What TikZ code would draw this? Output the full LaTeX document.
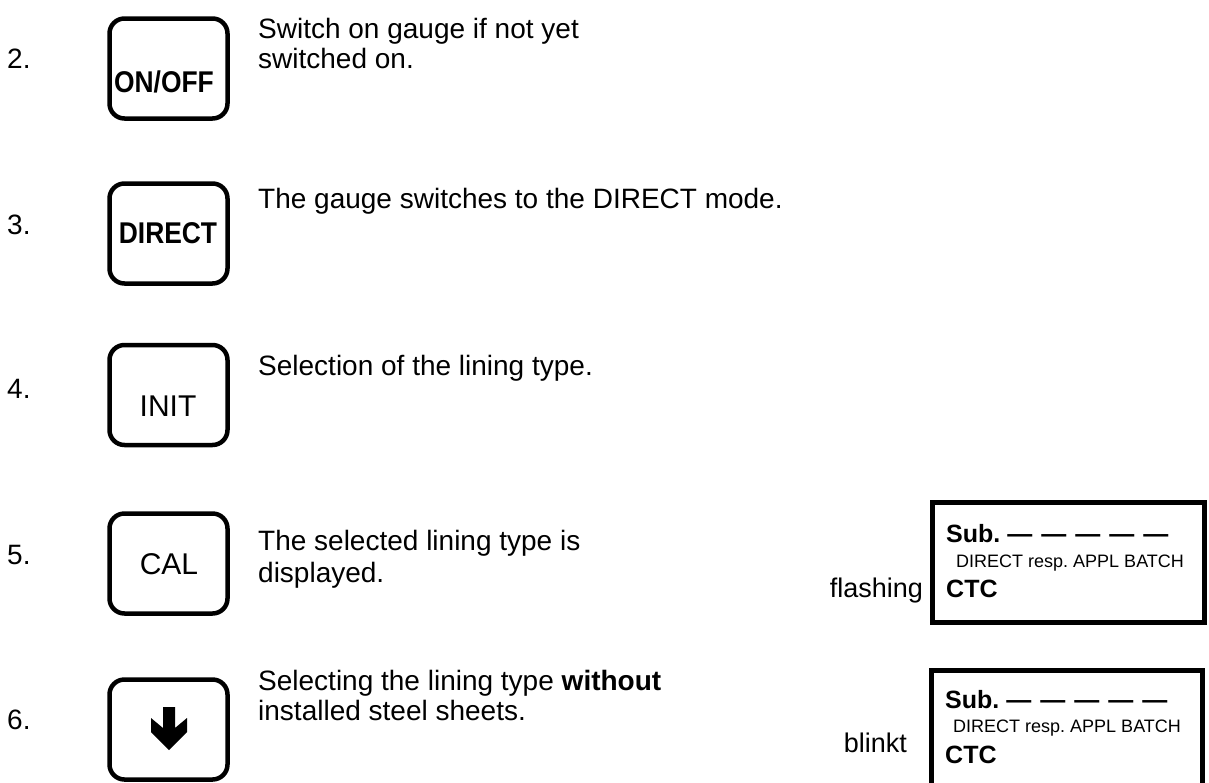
\documentclass[tikz,border=0pt]{standalone}
\usepackage{fontspec}
\setmainfont{Liberation Sans}
\usepackage{graphicx}
\frenchspacing
\newcommand\condbold[1]{\scalebox{0.88}[1]{\bfseries #1}}
\newcommand\dashrow{—\hspace{9pt}—\hspace{9pt}—\hspace{9pt}—\hspace{9pt}—}
\begin{document}
\begin{tikzpicture}[x=1pt,y=-1pt,
  keybox/.style={draw,line width=4.5pt,rounded corners=15pt,minimum width=118pt,minimum height=100pt,inner sep=0pt},
  dispbox/.style={draw,line width=5pt},
  num/.style={anchor=base west,inner sep=0pt,font=\fontsize{28}{32}\selectfont},
  desc/.style={anchor=base west,inner sep=0pt,font=\fontsize{28}{32}\selectfont},
  keylbl/.style={anchor=base,inner sep=0pt,font=\fontsize{30}{34}\selectfont},
  big/.style={anchor=base west,inner sep=0pt,font=\fontsize{25}{28}\selectfont\bfseries},
  small/.style={anchor=base west,inner sep=0pt,font=\fontsize{18}{20}\selectfont},
  side/.style={anchor=base east,inner sep=0pt,font=\fontsize{27}{30}\selectfont}]
\clip (0,0) rectangle (1209,782);
% step numbers
\node[num] (n2) at (7,68) {2.};
\node[num] (n3) at (7,234) {3.};
\node[num] (n4) at (7,398) {4.};
\node[num] (n5) at (7,564) {5.};
\node[num] (n6) at (7,729) {6.};
% keys
\node[keybox] (k2) at (168.5,68.5) {};
\node[keybox] (k3) at (168.5,233.5) {};
\node[keybox] (k4) at (168.5,395) {};
\node[keybox] (k5) at (168.5,563.5) {};
\node[keybox] (k6) at (168.5,729.5) {};
\node[keylbl] (l2) at (164,92) {\condbold{ON/OFF}};
\node[keylbl] (l3) at (168,243) {\condbold{DIRECT}};
\node[keylbl] (l4) at (168,416) {INIT};
\node[keylbl] (l5) at (169,574) {CAL};
\fill (163,707) -- (175,707) -- (175,728) -- (187,718) -- (187,732) -- (169,750) -- (151,732) -- (151,718) -- (163,728) -- cycle;
% descriptions
\node[desc] (d2a) at (258,38) {Switch on gauge if not yet};
\node[desc] (d2b) at (258,68) {switched on.};
\node[desc] (d3) at (258,208) {The gauge switches to the DIRECT mode.};
\node[desc] (d4) at (258,375) {Selection of the lining type.};
\node[desc] (d5a) at (258,550) {The selected lining type is};
\node[desc] (d5b) at (258,582) {displayed.};
\node[desc] (d6a) at (258,690) {Selecting the lining type \textbf{without}};
\node[desc] (d6b) at (258,720) {installed steel sheets.};
% displays
\draw[dispbox] (932.5,502.5) rectangle (1204.5,622.5);
\node[big] (s1) at (946,542) {Sub. \dashrow};
\node[small] (m1) at (956,567) {DIRECT resp. APPL BATCH};
\node[big] (c1) at (946,597) {CTC};
\node[side] (f1) at (923,597) {flashing};
\draw[dispbox] (931.5,670.5) rectangle (1202.5,800);
\node[big] (s2) at (945,708) {Sub. \dashrow};
\node[small] (m2) at (953,732) {DIRECT resp. APPL BATCH};
\node[big] (c2) at (945,763) {CTC};
\node[side] (f2) at (907,752) {blinkt};
\end{tikzpicture}
\end{document}
